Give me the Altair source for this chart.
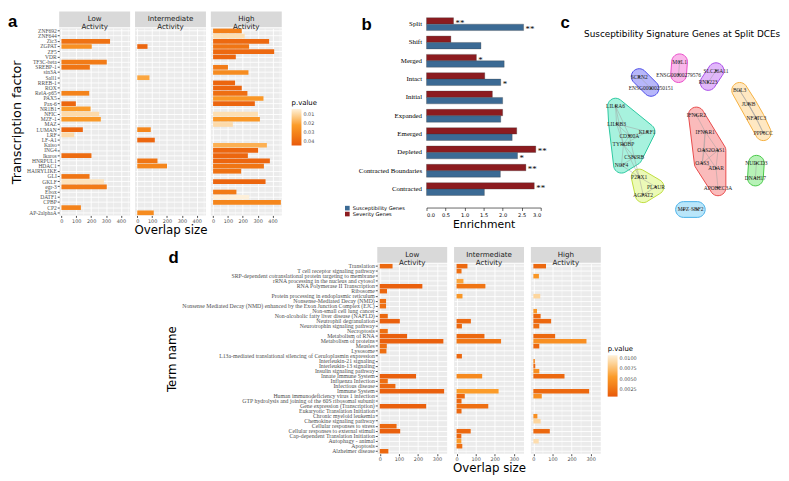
import altair as alt
import pandas as pd
import numpy as np

# ---------------- Panel a data ----------------
tf_names = ["ZNF692", "ZNF644", "Zic3", "ZGPAT", "ZF5", "VDR", "TF3C-beta", "SREBP-1", "sin3A", "Sall1",
            "RREB-1", "ROX", "RelA-p65", "PAX5", "Pax-6", "NR1B1", "NFIC", "MZF-1", "MAZ", "LUMAN",
            "LRF", "LF-A1", "Kaiso", "ING4", "Ikaros", "HNRPUL1", "HDAC1", "HAIRYLIKE", "GLI", "GKLF",
            "egr-3", "Ebox", "DATF1", "CPBP", "CP2", "AP-2alphaA"]
a_low_tf = ["Zic3", "ZGPAT", "TF3C-beta", "SREBP-1", "RelA-p65", "Pax-6", "NR1B1", "NFIC", "MZF-1",
            "LUMAN", "LRF", "Ikaros", "GLI", "GKLF", "egr-3", "CP2"]
a_low_size = [327, 204, 305, 191, 187, 97, 196, 254, 265, 144, 86, 202, 189, 286, 305, 131]
a_low_p = [0.037, 0.026, 0.034, 0.036, 0.031, 0.041, 0.022, 0.009, 0.023, 0.041, 0.009, 0.039, 0.036, 0.007, 0.034, 0.031]
a_mid_tf = ["ZGPAT", "Sall1", "LUMAN", "LF-A1", "HNRPUL1", "HDAC1", "AP-2alphaA"]
a_mid_size = [69, 82, 91, 118, 136, 200, 111]
a_mid_p = [0.041, 0.020, 0.030, 0.041, 0.036, 0.030, 0.028]
a_high_tf = ["ZNF692", "ZNF644", "Zic3", "ZGPAT", "ZF5", "VDR", "SREBP-1", "sin3A", "RREB-1", "ROX",
             "RelA-p65", "PAX5", "Pax-6", "NFIC", "MZF-1", "MAZ", "Kaiso", "ING4", "Ikaros", "HNRPUL1",
             "HDAC1", "HAIRYLIKE", "GKLF", "Ebox", "DATF1", "CPBP"]
a_high_size = [193, 213, 377, 242, 411, 153, 100, 238, 148, 193, 231, 339, 281, 302, 315, 133, 362, 303,
               234, 382, 342, 189, 353, 157, 243, 456]
a_high_p = [0.032, 0.008, 0.040, 0.036, 0.040, 0.041, 0.034, 0.028, 0.041, 0.041, 0.038, 0.024, 0.041,
            0.008, 0.024, 0.009, 0.018, 0.041, 0.041, 0.041, 0.036, 0.037, 0.041, 0.034, 0.004, 0.030]
a_ticks = [0, 100, 200, 300, 400]
a_minor = [50, 150, 250, 350, 450]
a_legend_vals = [0.01, 0.02, 0.03, 0.04]

# ---------------- Panel b data ----------------
b_cats = ["Split", "Shift", "Merged", "Intact", "Initial", "Expanded", "Emerged", "Depleted",
          "Contracted Boundaries", "Contracted"]
b_severity = [0.71, 0.64, 1.31, 1.53, 1.73, 2.00, 2.37, 2.87, 2.61, 2.83]
b_suscept = [2.55, 1.43, 2.04, 1.95, 2.00, 1.95, 2.25, 2.39, 1.94, 1.52]
b_sev_star = ["**", "", "*", "", "", "", "", "**", "**", "**"]
b_sus_star = ["**", "", "", "*", "", "", "", "*", "", ""]
b_ticks = [0.0, 0.5, 1.0, 1.5, 2.0, 2.5, 3.0]

# ---------------- Panel c data ----------------
c_nodes = ["SCRN2", "ENSG00000250151", "MCL1", "ENSG00000279576", "SLC26A11", "RNF223",
           "BCL3", "JUNB", "NFATC3", "PPP3CC",
           "LILRA6", "LILRB3", "KLRF1", "CD300A", "TYROBP", "CSF2RB", "NCF4",
           "P2RX1", "PLAUR", "AGPAT2",
           "IFNGR2", "IFNAR1", "OAS2", "OAS1", "OAS3", "ADAR", "APOBEC3A",
           "NUDCD3", "DNAH17", "MPZ", "SBF2"]
c_x = [633, 645, 674, 673, 711, 703, 735, 744, 752, 759,
       609, 610, 641, 623, 617, 628, 615, 633, 650, 637,
       691, 700, 699, 713, 697, 711, 713, 752, 751, 678, 692]
c_y = [67, 79, 52, 65, 61, 73, 81, 95, 109, 124,
       97, 115, 123, 127, 136, 149, 157, 169, 179, 187,
       106, 123, 142, 142, 155, 160, 180, 155, 170, 202, 202]
c_group = ["g1", "g1", "g2", "g2", "g3", "g3", "g4", "g4", "g4", "g4",
           "g5", "g5", "g5", "g5", "g5", "g5", "g5", "g6", "g6", "g6",
           "g7", "g7", "g7", "g7", "g7", "g7", "g7", "g8", "g8", "g9", "g9"]
c_groups = ["g1", "g2", "g3", "g4", "g5", "g6", "g7", "g8", "g9"]
c_fill = ["#7B7BF5", "#F57BD9", "#C87BF5", "#FFD58F", "#5EE8C2", "#DDF57B", "#F58484", "#7BE87B", "#80D2F5"]
c_stroke = ["#4A4AE8", "#E84AC8", "#A84AE8", "#F5B040", "#2CC8A0", "#BEDC3C", "#E84A4A", "#48C848", "#48B0E8"]
c_edges = [("SCRN2", "ENSG00000250151"), ("MCL1", "ENSG00000279576"), ("SLC26A11", "RNF223"),
           ("BCL3", "JUNB"), ("JUNB", "NFATC3"), ("NFATC3", "PPP3CC"), ("BCL3", "NFATC3"), ("JUNB", "PPP3CC"),
           ("LILRA6", "LILRB3"), ("LILRA6", "CD300A"), ("LILRB3", "CD300A"), ("LILRB3", "TYROBP"),
           ("LILRB3", "KLRF1"), ("CD300A", "TYROBP"), ("KLRF1", "TYROBP"), ("TYROBP", "CSF2RB"),
           ("CSF2RB", "NCF4"), ("TYROBP", "NCF4"), ("LILRA6", "TYROBP"), ("KLRF1", "CD300A"),
           ("CD300A", "CSF2RB"), ("NCF4", "P2RX1"), ("CSF2RB", "P2RX1"), ("TYROBP", "P2RX1"),
           ("P2RX1", "PLAUR"), ("P2RX1", "AGPAT2"), ("PLAUR", "AGPAT2"),
           ("IFNGR2", "IFNAR1"), ("IFNAR1", "OAS2"), ("IFNAR1", "OAS1"), ("OAS2", "OAS1"), ("OAS2", "OAS3"),
           ("OAS1", "ADAR"), ("OAS3", "ADAR"), ("ADAR", "APOBEC3A"), ("OAS1", "OAS3"), ("OAS2", "ADAR"),
           ("IFNAR1", "OAS3"), ("NUDCD3", "DNAH17"), ("MPZ", "SBF2")]
c_title = "Susceptibility Signature Genes at Split DCEs"

# ---------------- Panel d data ----------------
d_terms = ["Translation", "T cell receptor signaling pathway",
           "SRP-dependent cotranslational protein targeting to membrane",
           "rRNA processing in the nucleus and cytosol", "RNA Polymerase II Transcription", "Ribosome",
           "Protein processing in endoplasmic reticulum", "Nonsense-Mediated Decay (NMD)",
           "Nonsense Mediated Decay (NMD) enhanced by the Exon Junction Complex (EJC)",
           "Non-small cell lung cancer", "Non-alcoholic fatty liver disease (NAFLD)", "Neutrophil degranulation",
           "Neurotrophin signaling pathway", "Necroptosis", "Metabolism of RNA", "Metabolism of proteins",
           "Measles", "Lysosome", "L13a-mediated translational silencing of Ceruloplasmin expression",
           "Interleukin-21 signaling", "Interleukin-13 signaling", "Insulin signaling pathway",
           "Innate Immune System", "Influenza Infection", "Infectious disease", "Immune System",
           "Human immunodeficiency virus 1 infection", "GTP hydrolysis and joining of the 60S ribosomal subunit",
           "Gene expression (Transcription)", "Eukaryotic Translation Initiation", "Chronic myeloid leukemia",
           "Chemokine signaling pathway", "Cellular responses to stress", "Cellular responses to external stimuli",
           "Cap-dependent Translation Initiation", "Autophagy - animal", "Apoptosis", "Alzheimer disease"]
d_low_terms = ["Translation", "RNA Polymerase II Transcription", "Ribosome", "Nonsense-Mediated Decay (NMD)",
               "Nonsense Mediated Decay (NMD) enhanced by the Exon Junction Complex (EJC)",
               "Non-alcoholic fatty liver disease (NAFLD)", "Neutrophil degranulation", "Necroptosis",
               "Metabolism of RNA", "Metabolism of proteins", "Measles", "Lysosome", "Innate Immune System",
               "Influenza Infection", "Infectious disease", "Immune System", "Gene expression (Transcription)",
               "Cellular responses to stress", "Cellular responses to external stimuli", "Alzheimer disease"]
d_low_size = [67, 223, 38, 33, 33, 42, 105, 42, 143, 333, 37, 35, 190, 42, 82, 337, 243, 88, 107, 45]
d_low_p = [0.0015, 0.0010, 0.0015, 0.0020, 0.0020, 0.0015, 0.0010, 0.0020, 0.0010, 0.0010, 0.0020, 0.0020,
           0.0010, 0.0020, 0.0015, 0.0010, 0.0010, 0.0015, 0.0010, 0.0015]
d_mid_terms = ["Translation", "T cell receptor signaling pathway", "rRNA processing in the nucleus and cytosol",
               "RNA Polymerase II Transcription", "Protein processing in endoplasmic reticulum",
               "Neutrophil degranulation", "Neurotrophin signaling pathway", "Metabolism of RNA",
               "Metabolism of proteins", "L13a-mediated translational silencing of Ceruloplasmin expression",
               "Innate Immune System", "Immune System", "Human immunodeficiency virus 1 infection",
               "GTP hydrolysis and joining of the 60S ribosomal subunit", "Gene expression (Transcription)",
               "Eukaryotic Translation Initiation", "Cellular responses to external stimuli",
               "Cap-dependent Translation Initiation", "Autophagy - animal", "Apoptosis"]
d_mid_size = [57, 26, 36, 151, 31, 75, 28, 146, 233, 28, 134, 220, 43, 26, 166, 26, 74, 25, 25, 30]
d_mid_p = [0.0015, 0.0020, 0.0060, 0.0025, 0.0050, 0.0015, 0.0015, 0.0015, 0.0025, 0.0015, 0.0040, 0.0055,
           0.0015, 0.0015, 0.0020, 0.0015, 0.0015, 0.0015, 0.0055, 0.0020]
d_high_terms = ["Translation", "SRP-dependent cotranslational protein targeting to membrane",
                "Protein processing in endoplasmic reticulum", "Non-small cell lung cancer",
                "Non-alcoholic fatty liver disease (NAFLD)", "Neutrophil degranulation",
                "Neurotrophin signaling pathway", "Metabolism of RNA", "Metabolism of proteins", "Measles",
                "Interleukin-21 signaling", "Interleukin-13 signaling", "Insulin signaling pathway",
                "Innate Immune System", "Immune System", "Human immunodeficiency virus 1 infection",
                "Chronic myeloid leukemia", "Chemokine signaling pathway", "Cellular responses to external stimuli",
                "Autophagy - animal"]
d_high_size = [66, 29, 36, 19, 38, 93, 31, 114, 278, 31, 8, 10, 31, 163, 292, 44, 21, 38, 86, 28]
d_high_p = [0.0015, 0.0050, 0.0090, 0.0050, 0.0015, 0.0015, 0.0020, 0.0015, 0.0045, 0.0015, 0.0040, 0.0015,
            0.0045, 0.0015, 0.0015, 0.0045, 0.0045, 0.0090, 0.0015, 0.0095]
d_ticks = [0, 100, 200, 300]
d_minor = [50, 150, 250]
d_legend_vals = [0.0025, 0.005, 0.0075, 0.01]

SANS = "DejaVu Sans"
SERIF = "Liberation Serif"
GREY_BG = "#EBEBEB"
DARK, MID, LIGHT = "#E8590C", "#FB9C2A", "#FEF0DA"


def letter_layer(letter, dx, dy):
    return alt.Chart(pd.DataFrame({"t": [letter]})).mark_text(
        fontSize=17, font="Liberation Sans", fontWeight="bold", align="left", baseline="alphabetic",
        color="black").encode(x=alt.value(dx), y=alt.value(dy), text="t:N")


def facet_panel(names, sizes, pvals, cats, strip, width, height, xdom, ticks, minor, cscale,
                yaxis, xtitle, legend, letter=None, letter_dx=0):
    df = pd.DataFrame({"name": names, "size": sizes, "p": pvals})
    xscale = alt.Scale(domain=xdom, nice=False)
    xaxis = alt.Axis(values=ticks, title=xtitle, grid=True, gridColor="white", gridWidth=0.9,
                     labelFontSize=5, labelColor="#4D4D4D", labelFont=SANS, tickColor="#4D4D4D",
                     tickSize=2, domain=False, titleFont=SANS, titleFontSize=12,
                     titleFontWeight="normal", titleColor="black", titlePadding=1, labelPadding=1)
    minor_layer = alt.Chart(pd.DataFrame({"v": minor})).mark_rule(color="white", strokeWidth=0.45).encode(
        x=alt.X("v:Q", scale=xscale, axis=xaxis))
    bars = alt.Chart(df).mark_bar().encode(
        x=alt.X("size:Q", scale=xscale, axis=xaxis),
        y=alt.Y("name:N", scale=alt.Scale(domain=cats, paddingInner=0.1, paddingOuter=0.05), axis=yaxis),
        color=alt.Color("p:Q", scale=cscale, legend=legend),
    )
    sdf = pd.DataFrame({"t": [strip]})
    strip_rect = alt.Chart(sdf).mark_rect(color="#D9D9D9").encode(
        x=alt.value(0), x2=alt.value(width), y=alt.value(-17), y2=alt.value(-1))
    strip_text = alt.Chart(sdf).mark_text(lineBreak="\n", fontSize=7.2, font=SANS, color="#1A1A1A",
                                          baseline="middle", lineHeight=8).encode(
        x=alt.value(width / 2), y=alt.value(-9), text="t:N")
    layers = [minor_layer, bars, strip_rect, strip_text]
    if letter is not None:
        layers.append(letter_layer(letter, letter_dx, -1))
    return alt.layer(*layers).properties(width=width, height=height,
                                         view=alt.ViewBackground(fill=GREY_BG, stroke=None))


# ---------- Panel a ----------
a_cscale = alt.Scale(domain=[0.045, 0.022, 0.004], range=[DARK, MID, LIGHT])
a_yaxis_low = alt.Axis(title="Transcription factor", titleFont=SANS, titleFontSize=13, titleFontWeight="normal",
                       titleColor="black", titlePadding=3, labelFont=SERIF, labelFontSize=5.6,
                       labelColor="#4D4D4D", tickSize=2, tickColor="#4D4D4D", domain=False, grid=True,
                       gridColor="white", gridWidth=0.9, bandPosition=0.5, labelPadding=1, labelOverlap=False)
a_yaxis_other = alt.Axis(title=None, labels=False, ticks=False, domain=False, grid=True, gridColor="white",
                         gridWidth=0.9, bandPosition=0.5)
a_legend = alt.Legend(orient="none", legendX=82, legendY=72, title="p.value", titleFont=SANS, titleFontSize=7,
                      titleFontWeight="normal", labelFont=SANS, labelFontSize=5, labelColor="#4D4D4D",
                      values=a_legend_vals, format=".2f", gradientLength=37, gradientThickness=10,
                      gradientStrokeWidth=0, direction="vertical", titlePadding=3, labelOffset=2)
AW, AH = 72, 190
a_low = facet_panel(a_low_tf, a_low_size, a_low_p, tf_names, "Low\nActivity", AW, AH, [-15, 462], a_ticks,
                    a_minor, a_cscale, a_yaxis_low, None, None, letter="a", letter_dx=-52)
a_mid = facet_panel(a_mid_tf, a_mid_size, a_mid_p, tf_names, "Intermediate\nActivity", AW, AH, [-15, 462],
                    a_ticks, a_minor, a_cscale, a_yaxis_other, "Overlap size", None)
a_high = facet_panel(a_high_tf, a_high_size, a_high_p, tf_names, "High\nActivity", AW, AH, [-15, 462],
                     a_ticks, a_minor, a_cscale, a_yaxis_other, None, a_legend)
panel_a = alt.hconcat(a_low, a_mid, a_high, spacing=3).resolve_scale(color="independent").resolve_legend(
    color="independent")

# ---------- Panel b ----------
b_rows = []
for i, c in enumerate(b_cats):
    b_rows.append({"cat": c, "set": "Severity Genes", "val": b_severity[i], "star": b_sev_star[i]})
    b_rows.append({"cat": c, "set": "Susceptibility Genes", "val": b_suscept[i], "star": b_sus_star[i]})
b_df = pd.DataFrame(b_rows)
b_y = alt.Y("cat:N", sort=b_cats, scale=alt.Scale(paddingInner=0.3, paddingOuter=0.12, range=[-13, 172]),
            axis=alt.Axis(title=None, labelFont=SERIF, labelFontSize=7, labelColor="black", ticks=False,
                          domain=False, labelPadding=5))
b_yoff = alt.YOffset("set:N", sort=["Severity Genes", "Susceptibility Genes"])
b_x = alt.X("val:Q", scale=alt.Scale(domain=[0, 3], nice=False),
            axis=alt.Axis(values=b_ticks, format=".1f", title="Enrichment", grid=False, offset=8, tickSize=3,
                          tickColor="black", domainColor="black", domainWidth=0.6, tickWidth=0.6,
                          labelFontSize=5.2, labelFont=SANS, labelColor="black", titleFont=SANS,
                          titleFontSize=11, titleFontWeight="normal", titleColor="black", titlePadding=1,
                          labelPadding=2))
b_bars = alt.Chart(b_df).mark_bar(stroke="#3A3A3A", strokeWidth=0.3).encode(
    y=b_y, yOffset=b_yoff, x=b_x,
    color=alt.Color("set:N", scale=alt.Scale(domain=["Susceptibility Genes", "Severity Genes"],
                                             range=["#3B6A94", "#8C1B1F"]),
                    legend=alt.Legend(orient="none", legendX=-83, legendY=180, title=None, symbolType="square",
                                      symbolSize=22, labelFontSize=5.2, labelFont=SANS, rowPadding=0,
                                      symbolStrokeWidth=0, labelOffset=3)))
b_stars = alt.Chart(b_df).mark_text(align="left", baseline="middle", dx=2, dy=2, fontSize=9, font=SERIF,
                                    color="black").encode(y=b_y, yOffset=b_yoff, x=b_x, text="star:N")
panel_b = alt.layer(b_bars, b_stars, letter_layer("b", -66, 2)).properties(
    width=116, height=174, view=alt.ViewBackground(stroke=None))

# ---------- Panel c ----------
node_df = pd.DataFrame({"name": c_nodes, "x": c_x, "y": c_y, "group": c_group})
pos = {n: (x, y) for n, x, y in zip(c_nodes, c_x, c_y)}


def convex_hull(points):
    pts = sorted(set(points))
    if len(pts) <= 2:
        return pts

    def cross(o, a, b):
        return (a[0] - o[0]) * (b[1] - o[1]) - (a[1] - o[1]) * (b[0] - o[0])
    lower, upper = [], []
    for p in pts:
        while len(lower) >= 2 and cross(lower[-2], lower[-1], p) <= 0:
            lower.pop()
        lower.append(p)
    for p in reversed(pts):
        while len(upper) >= 2 and cross(upper[-2], upper[-1], p) <= 0:
            upper.pop()
        upper.append(p)
    return lower[:-1] + upper[:-1]


hull_rows = []
angles = np.linspace(0, 2 * np.pi, 28, endpoint=False)
for g in c_groups:
    members = [(x, y) for x, y, gg in zip(c_x, c_y, c_group) if gg == g]
    pad = 8.0
    pts = [(round(mx + pad * np.cos(t), 3), round(my + pad * np.sin(t), 3)) for mx, my in members for t in angles]
    for k, (hx, hy) in enumerate(convex_hull(pts)):
        hull_rows.append({"group": g, "order": k, "x": hx, "y": hy})
hull_df = pd.DataFrame(hull_rows)
edge_df = pd.DataFrame([{"x": pos[a][0], "y": pos[a][1], "x2": pos[b][0], "y2": pos[b][1]} for a, b in c_edges])

CW, CH = 180, 197
c_xs = alt.Scale(domain=[590, 590 + CW], nice=False, zero=False)
c_ys = alt.Scale(domain=[18, 18 + CH], nice=False, zero=False, reverse=True)
c_hulls = alt.Chart(hull_df).mark_line(interpolate="linear-closed", strokeWidth=1, fillOpacity=0.55,
                                       strokeJoin="round").encode(
    x=alt.X("x:Q", scale=c_xs, axis=None), y=alt.Y("y:Q", scale=c_ys, axis=None),
    order="order:Q", detail="group:N",
    fill=alt.Fill("group:N", scale=alt.Scale(domain=c_groups, range=c_fill), legend=None),
    stroke=alt.Stroke("group:N", scale=alt.Scale(domain=c_groups, range=c_stroke), legend=None))
c_edge = alt.Chart(edge_df).mark_rule(color="#A0A0A0", strokeWidth=0.5).encode(
    x=alt.X("x:Q", scale=c_xs, axis=None), y=alt.Y("y:Q", scale=c_ys, axis=None), x2="x2:Q", y2="y2:Q")
c_pts = alt.Chart(node_df).mark_circle(size=5, opacity=1, color="#555555").encode(
    x=alt.X("x:Q", scale=c_xs, axis=None), y=alt.Y("y:Q", scale=c_ys, axis=None))
c_lab = alt.Chart(node_df).mark_text(font=SERIF, fontSize=5.6, color="#222222").encode(
    x=alt.X("x:Q", scale=c_xs, axis=None), y=alt.Y("y:Q", scale=c_ys, axis=None), text="name:N")
c_tit = alt.Chart(pd.DataFrame({"t": [c_title]})).mark_text(
    font=SANS, fontSize=9, align="left", baseline="middle", color="black").encode(
    x=alt.value(-13), y=alt.value(6), text="t:N")
panel_c = alt.layer(c_hulls, c_edge, c_pts, c_lab, c_tit, letter_layer("c", -37, 0)).properties(
    width=CW, height=CH, view=alt.ViewBackground(stroke=None))

# ---------- Panel d ----------
d_cscale = alt.Scale(domain=[0.0005, 0.0055, 0.0108], range=[DARK, MID, LIGHT])
d_yaxis_low = alt.Axis(title="Term name", titleFont=SANS, titleFontSize=12, titleFontWeight="normal",
                       titleColor="black", titlePadding=3, labelFont=SERIF, labelFontSize=5.9,
                       labelColor="#4D4D4D", tickSize=2, tickColor="#4D4D4D", domain=False, grid=True,
                       gridColor="white", gridWidth=0.9, bandPosition=0.5, labelPadding=1, labelOverlap=False,
                       labelLimit=400)
d_legend = alt.Legend(orient="none", legendX=78, legendY=83, title="p.value", titleFont=SANS, titleFontSize=7,
                      titleFontWeight="normal", labelFont=SANS, labelFontSize=5, labelColor="#4D4D4D",
                      values=d_legend_vals, format=".4f", gradientLength=42, gradientThickness=10,
                      gradientStrokeWidth=0, direction="vertical", titlePadding=3, labelOffset=2)
DW, DH = 71, 193
d_low = facet_panel(d_low_terms, d_low_size, d_low_p, d_terms, "Low\nActivity", DW, DH, [-13, 353], d_ticks,
                    d_minor, d_cscale, d_yaxis_low, None, None, letter="d", letter_dx=-212)
d_mid = facet_panel(d_mid_terms, d_mid_size, d_mid_p, d_terms, "Intermediate\nActivity", DW, DH, [-13, 353],
                    d_ticks, d_minor, d_cscale, a_yaxis_other, "Overlap size", None)
d_high = facet_panel(d_high_terms, d_high_size, d_high_p, d_terms, "High\nActivity", DW, DH, [-13, 353],
                     d_ticks, d_minor, d_cscale, a_yaxis_other, None, d_legend)
panel_d = alt.hconcat(d_low, d_mid, d_high, spacing=5).resolve_scale(color="independent").resolve_legend(
    color="independent")

spacer = alt.Chart(pd.DataFrame({"v": [0]})).mark_point(opacity=0).encode(
    x=alt.X("v:Q", axis=None), y=alt.Y("v:Q", axis=None)).properties(
    width=108, height=10, view=alt.ViewBackground(stroke=None))

bc = alt.hconcat(panel_b, panel_c, spacing=14).resolve_scale(
    color="independent", fill="independent", stroke="independent")
top = alt.hconcat(panel_a, bc, spacing=28).resolve_scale(
    color="independent", fill="independent", stroke="independent")
bottom = alt.hconcat(spacer, panel_d, spacing=0).resolve_scale(color="independent")

chart = alt.vconcat(top, bottom, spacing=12).resolve_scale(
    color="independent", fill="independent", stroke="independent").properties(
    padding={"left": 0, "top": 0, "right": 0, "bottom": 0}).configure(background="white")

chart.save("out.html", embed_options={"renderer": "svg", "actions": False})
